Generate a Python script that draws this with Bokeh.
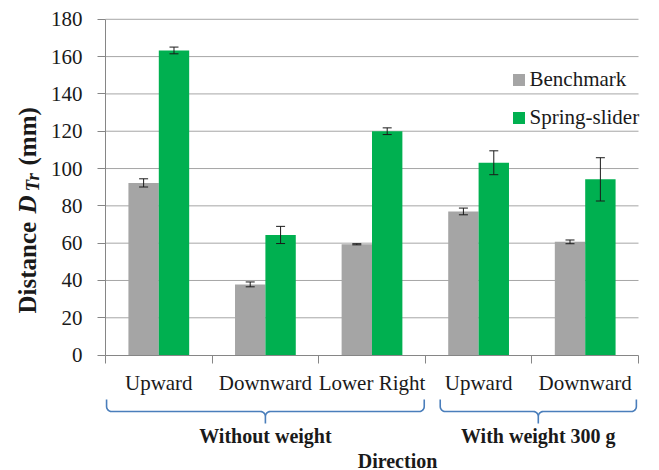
import numpy as np
from bokeh.plotting import figure
from bokeh.models import (ColumnDataSource, LinearAxis, FixedTicker, Range1d,
                          Whisker, TeeHead, Legend, LegendItem)
from bokeh.transform import dodge
from bokeh.core.properties import value
from bokeh.embed import file_html
from bokeh.resources import INLINE

# ---------------- data ----------------
categories = ["Upward", "Downward", "Lower Right", "Upward", "Downward"]
groups = ["Without weight", "With weight 300 g"]
group_sizes = [3, 2]
benchmark = [92.3, 37.9, 59.4, 77.0, 60.7]
benchmark_err = [2.2, 1.3, 0.3, 1.8, 1.0]
spring_slider = [163.3, 64.4, 120.0, 103.1, 94.2]
spring_slider_err = [1.8, 4.6, 1.8, 6.4, 11.6]
series_names = ["Benchmark", "Spring-slider"]
y_ticks = [0, 20, 40, 60, 80, 100, 120, 140, 160, 180]

# ---------------- layout (pixels) ----------------
W, H = 659, 470
FRAME_X0 = 105.0     # px of x = 0
CAT_PX = 106.6       # px per category
Y0_PX = 354.6        # px of y = 0
UNIT_PX = 1.8656     # px per mm

def X(px):
    return (px - FRAME_X0) / CAT_PX

def Y(px):
    return (Y0_PX - px) / UNIT_PX

BAR_W = 0.285
OFF = BAR_W / 2
GREY = "#A5A5A5"
GREEN = "#00B050"
AXIS_C = "#868686"
GRID_C = "#A6A6A6"
TXT_C = "#1a1a1a"
BRACE_C = "#4A7EBB"
SERIF = "Liberation Serif"

n = len(categories)
xc = [i + 0.5 for i in range(n)]
src = ColumnDataSource(dict(
    xc=xc,
    bench=benchmark,
    spring=spring_slider,
    b_up=[v + e for v, e in zip(benchmark, benchmark_err)],
    b_lo=[v - e for v, e in zip(benchmark, benchmark_err)],
    s_up=[v + e for v, e in zip(spring_slider, spring_slider_err)],
    s_lo=[v - e for v, e in zip(spring_slider, spring_slider_err)],
))

p = figure(width=W, height=H, output_backend="svg", toolbar_location=None,
           x_axis_type=None, y_axis_type=None,
           x_range=Range1d(X(0), X(W)), y_range=Range1d(Y(H), Y(0)),
           min_border=0, min_border_left=0, min_border_right=0,
           min_border_top=0, min_border_bottom=0)
p.outline_line_color = None
p.background_fill_color = "white"
p.border_fill_color = "white"

# gridlines (from tick list, spanning the category extent)
grid_vals = [t for t in y_ticks if t > 0]
p.segment(x0=[0] * len(grid_vals), x1=[n] * len(grid_vals),
          y0=grid_vals, y1=grid_vals, line_color=GRID_C, line_width=1)

# bars
rb = p.vbar(x=dodge("xc", -OFF), top="bench", width=BAR_W, bottom=0,
            source=src, fill_color=GREY, line_color=None)
rs = p.vbar(x=dodge("xc", OFF), top="spring", width=BAR_W, bottom=0,
            source=src, fill_color=GREEN, line_color=None)

# error bars
for base, up, lo in [(dodge("xc", -OFF), "b_up", "b_lo"), (dodge("xc", OFF), "s_up", "s_lo")]:
    w = Whisker(source=src, base=base, upper=up, lower=lo, dimension="height",
                line_color=TXT_C, line_width=1,
                upper_head=TeeHead(size=9, line_color=TXT_C, line_width=1),
                lower_head=TeeHead(size=9, line_color=TXT_C, line_width=1))
    w.level = "annotation"
    p.add_layout(w)

# y axis
yax = LinearAxis(fixed_location=0, bounds=(0, 180),
                 ticker=FixedTicker(ticks=y_ticks, minor_ticks=[]))
yax.axis_line_color = AXIS_C
yax.major_tick_line_color = AXIS_C
yax.major_tick_out = 8
yax.major_tick_in = 0
yax.minor_tick_line_color = None
yax.major_label_standoff = 15
yax.major_label_text_font = SERIF
yax.major_label_text_font_size = "21px"
yax.major_label_text_color = TXT_C
p.add_layout(yax, "left")

# x axis
xax = LinearAxis(fixed_location=0, bounds=(0, n),
                 ticker=FixedTicker(ticks=xc, minor_ticks=list(range(n + 1))))
xax.major_label_overrides = {float(x): c for x, c in zip(xc, categories)}
xax.axis_line_color = AXIS_C
xax.major_tick_line_color = None
xax.major_tick_out = 0
xax.major_tick_in = 0
xax.minor_tick_line_color = AXIS_C
xax.minor_tick_out = 8
xax.minor_tick_in = 0
xax.major_label_standoff = 8
xax.major_label_text_font = SERIF
xax.major_label_text_font_size = "21px"
xax.major_label_text_color = TXT_C
p.add_layout(xax, "below")

# braces + group labels
y_top, y_mid, y_tip = Y(399), Y(411), Y(423)
rx, ry = 5 / CAT_PX, 5 / UNIT_PX
t = np.linspace(0, np.pi / 2, 8)
insets = [(0.01, 0.01), (0.14, 0.02)]
brace_xs, brace_ys, lab_x = [], [], []
start = 0
for size, (il, ir) in zip(group_sizes, insets):
    xl, xr = start + il, start + size - ir
    xm = (xl + xr) / 2
    xs = [xl]; ys = [y_top]
    xs += list(xl + rx - rx * np.cos(t)); ys += list(y_mid + ry - ry * np.sin(t))
    xs += list(xm - rx + rx * np.sin(t)); ys += list(y_mid - ry + ry * np.cos(t))
    xs += [xm]; ys += [y_tip]
    xs += list(xm + rx - rx * np.cos(t)); ys += list(y_mid - ry + ry * np.sin(t))
    xs += list(xr - rx + rx * np.sin(t)); ys += list(y_mid + ry - ry * np.cos(t))
    xs += [xr]; ys += [y_top]
    brace_xs.append(xs); brace_ys.append(ys); lab_x.append(xm)
    start += size
p.multi_line(xs=brace_xs, ys=brace_ys, line_color=BRACE_C, line_width=1.6)
p.text(x=lab_x, y=[Y(435)] * len(groups), text=groups,
       text_font=value(SERIF), text_font_style="bold", text_font_size="20px",
       text_color=TXT_C, text_align="center", text_baseline="middle")

# x axis title
p.text(x=[X(397)], y=[Y(460)], text=["Direction"],
       text_font=value(SERIF), text_font_style="bold", text_font_size="20px",
       text_color=TXT_C, text_align="center", text_baseline="middle")

# y axis title (rich text pieces, rotated)
pieces = [("Distance", "bold", "25px", 27, 313),
          ("D", "bold italic", "25px", 27, 213),
          ("Tr", "bold italic", "19px", 32, 191),
          ("(mm)", "bold", "25px", 27, 165)]
for txt, style, size, bx, by in pieces:
    p.text(x=[X(bx)], y=[Y(by)], text=[txt], angle=np.pi / 2,
           text_font=value(SERIF), text_font_style=style, text_font_size=size,
           text_color=TXT_C, text_align="left", text_baseline="middle")

# legend
legend = Legend(items=[LegendItem(label=series_names[0], renderers=[rb]),
                       LegendItem(label=series_names[1], renderers=[rs])],
                location=(510.5, H - 129.5), orientation="vertical")
legend.glyph_width = 15
legend.glyph_height = 15
legend.label_height = 24
legend.spacing = 13
legend.padding = 0
legend.margin = 0
legend.label_standoff = 4
legend.label_text_font = SERIF
legend.label_text_font_size = "21px"
legend.label_text_color = TXT_C
legend.background_fill_alpha = 0
legend.border_line_alpha = 0
p.add_layout(legend)

open("out.html", "w").write(file_html(p, INLINE))
